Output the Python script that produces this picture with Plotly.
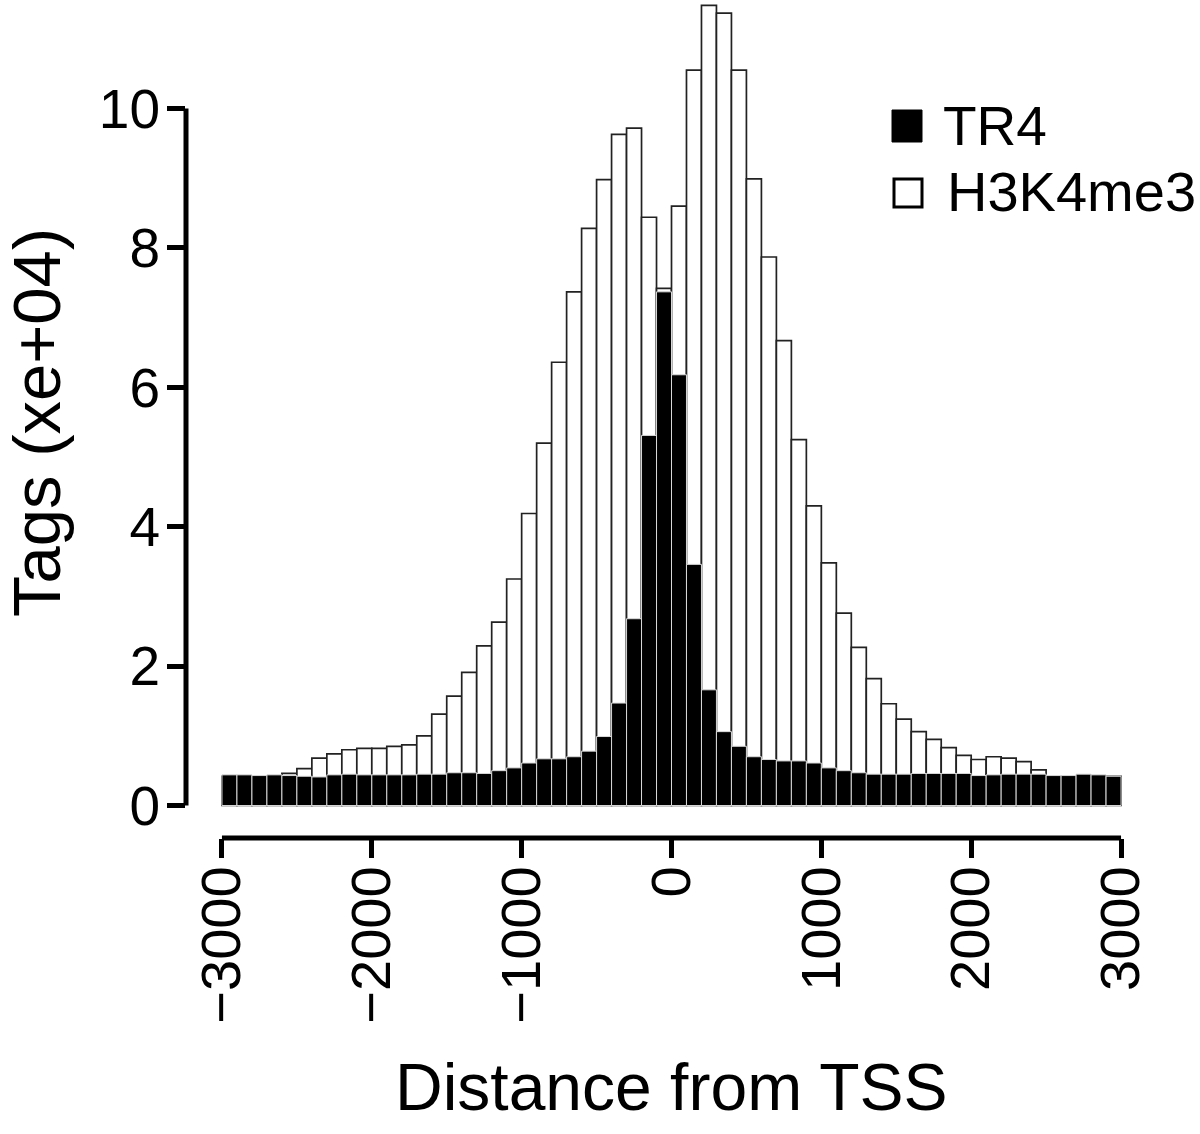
import plotly.graph_objects as go

# ---- data ----
bin_centers = list(range(-2950, 3000, 100))

tr4 = [0.44, 0.44, 0.43, 0.44, 0.43, 0.42, 0.41, 0.44, 0.45, 0.44,
       0.44, 0.44, 0.44, 0.45, 0.45, 0.47, 0.47, 0.46, 0.50, 0.54,
       0.61, 0.67, 0.67, 0.70, 0.78, 0.99, 1.47, 2.68, 5.31, 7.37,
       6.18, 3.46, 1.66, 1.06, 0.85, 0.70, 0.66, 0.64, 0.64, 0.61,
       0.54, 0.50, 0.47, 0.45, 0.45, 0.45, 0.46, 0.46, 0.46, 0.46,
       0.43, 0.44, 0.45, 0.45, 0.45, 0.43, 0.43, 0.45, 0.44, 0.42]

h3k4me3 = [0.42, 0.42, 0.42, 0.42, 0.46, 0.53, 0.68, 0.74, 0.80, 0.82,
           0.82, 0.85, 0.87, 1.00, 1.31, 1.57, 1.91, 2.29, 2.63, 3.25,
           4.19, 5.20, 6.36, 7.37, 8.28, 8.98, 9.63, 9.72, 8.44, 7.42,
           8.60, 10.55, 11.48, 11.37, 10.55, 8.99, 7.87, 6.67, 5.25, 4.30,
           3.48, 2.76, 2.27, 1.82, 1.46, 1.24, 1.06, 0.95, 0.83, 0.72,
           0.66, 0.70, 0.68, 0.63, 0.51, 0.42, 0.42, 0.42, 0.42, 0.42]

x_ticks = [-3000, -2000, -1000, 0, 1000, 2000, 3000]
x_tick_labels = ["\u22123000", "\u22122000", "\u22121000", "0", "1000", "2000", "3000"]
y_ticks = [0, 2, 4, 6, 8, 10]
y_tick_labels = ["0", "2", "4", "6", "8", "10"]

series_names = ["TR4", "H3K4me3"]
x_title = "Distance from TSS"
y_title = "Tags (xe+04)"

# ---- layout geometry (pixels) ----
W, H = 1200, 1134
ML, MR, MT, MB = 186, 43, 0, 296
PW = W - ML - MR
PH = H - MT - MB
FONT = "Liberation Sans, Arial, Helvetica, sans-serif"


def px(x):
    """page pixel x -> paper coordinate"""
    return (x - ML) / PW


def py(y):
    """page pixel y -> paper coordinate"""
    return (H - MB - y) / PH


fig = go.Figure()
fig.add_trace(go.Bar(
    x=bin_centers, y=h3k4me3, width=100, name=series_names[1],
    marker=dict(color="white", line=dict(color="#222222", width=1.7)),
    opacity=1, showlegend=False, cliponaxis=False, hoverinfo="skip"))
fig.add_trace(go.Bar(
    x=bin_centers, y=tr4, width=100, name=series_names[0],
    marker=dict(color="black", line=dict(color="#d9d9d9", width=1)),
    opacity=1, showlegend=False, cliponaxis=False, hoverinfo="skip"))

fig.update_layout(
    width=W, height=H,
    margin=dict(l=ML, r=MR, t=MT, b=MB, pad=0),
    paper_bgcolor="white", plot_bgcolor="white",
    barmode="overlay", bargap=0,
    font=dict(family=FONT, color="black"),
    xaxis=dict(range=[-3240, 3240], showgrid=False, zeroline=False, showline=False,
               tickmode="array", tickvals=x_ticks, ticktext=x_tick_labels,
               ticks="outside", ticklen=19, tickwidth=5, tickcolor="black",
               tickangle=-90, tickfont=dict(size=56, family=FONT, color="black"),
               ticklabelstandoff=-14, automargin=False, fixedrange=True),
    yaxis=dict(range=[-0.466, 11.557], showgrid=False, zeroline=False, showline=False,
               tickmode="array", tickvals=y_ticks, ticktext=y_tick_labels,
               ticks="outside", ticklen=18, tickwidth=5, tickcolor="black",
               tickfont=dict(size=55, family=FONT, color="black"),
               ticklabelstandoff=-4, automargin=False, fixedrange=True),
)

# R-style detached axis lines spanning only the tick range
fig.add_shape(type="line", xref="x", yref="paper", x0=x_ticks[0], x1=x_ticks[-1],
              y0=0, y1=0, line=dict(color="black", width=5), layer="above")
fig.add_shape(type="line", xref="paper", yref="y", x0=0, x1=0,
              y0=y_ticks[0], y1=y_ticks[-1], line=dict(color="black", width=5), layer="above")

# axis titles
fig.add_annotation(text=x_title, xref="x", yref="paper", x=0, y=py(1087),
                   xanchor="center", yanchor="middle", showarrow=False,
                   font=dict(size=66, family=FONT, color="black"))
fig.add_annotation(text=y_title, xref="paper", yref="paper", x=px(36), y=py(423),
                   xanchor="center", yanchor="middle", textangle=-90, showarrow=False,
                   font=dict(size=67, family=FONT, color="black"))

# legend (drawn manually to match the large legend keys)
fig.add_shape(type="rect", xref="paper", yref="paper",
              x0=px(892), x1=px(922), y0=py(142), y1=py(110),
              fillcolor="black", line=dict(color="black", width=1))
fig.add_shape(type="rect", xref="paper", yref="paper",
              x0=px(894), x1=px(922), y0=py(207), y1=py(179),
              fillcolor="white", line=dict(color="black", width=3))
fig.add_annotation(text=series_names[0], xref="paper", yref="paper", x=px(941), y=py(126),
                   xanchor="left", yanchor="middle", showarrow=False,
                   font=dict(size=55, family=FONT, color="black"))
fig.add_annotation(text=series_names[1], xref="paper", yref="paper", x=px(945), y=py(191),
                   xanchor="left", yanchor="middle", showarrow=False,
                   font=dict(size=56, family=FONT, color="black"))

# remove the browser's default page margin so the figure fills the window exactly
fig.write_html("out.html", config={"displayModeBar": False, "staticPlot": True},
               post_script="document.body.style.margin='0';document.body.style.overflow='hidden';")
